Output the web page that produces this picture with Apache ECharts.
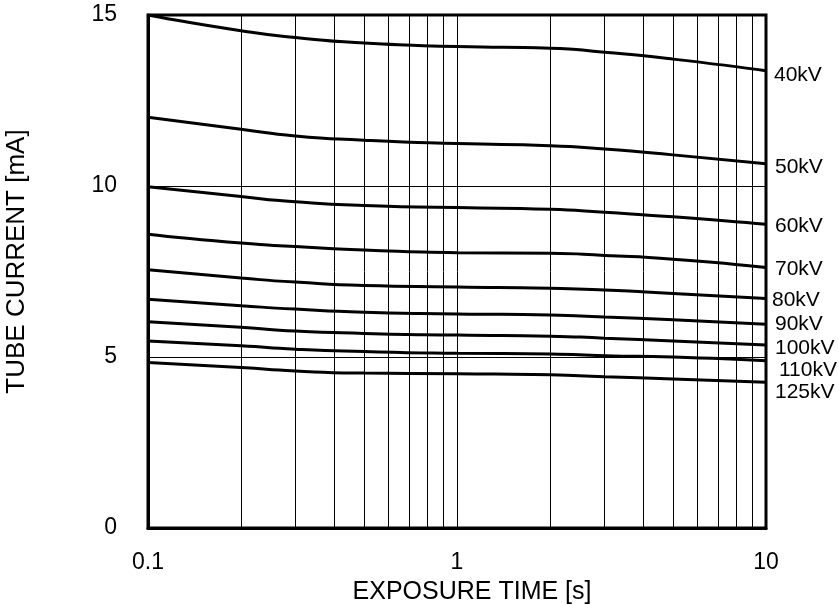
<!DOCTYPE html>
<html>
<head>
<meta charset="utf-8">
<script src="https://cdn.jsdelivr.net/npm/echarts@6/dist/echarts.min.js"></script>
<style>
html,body{margin:0;padding:0;background:#fff;}
#chart{width:839px;height:605px;}
</style>
</head>
<body>
<div id="chart"></div>
<script>
const exposureTimes = [0.1, 0.2, 0.3, 0.5, 1, 2, 3, 5, 10];
const seriesNames = ['40kV','50kV','60kV','70kV','80kV','90kV','100kV','110kV','125kV'];
const current40 = [15.0, 14.54, 14.34, 14.18, 14.08, 14.03, 13.91, 13.71, 13.37];
const current50 = [12.01, 11.66, 11.46, 11.34, 11.24, 11.18, 11.08, 10.91, 10.65];
const current60 = [9.98, 9.69, 9.54, 9.43, 9.37, 9.32, 9.23, 9.10, 8.88];
const current70 = [8.59, 8.33, 8.23, 8.13, 8.05, 8.03, 7.97, 7.86, 7.62];
const current80 = [7.55, 7.31, 7.19, 7.09, 7.05, 7.01, 6.96, 6.86, 6.71];
const current90 = [6.69, 6.50, 6.40, 6.31, 6.26, 6.23, 6.17, 6.09, 5.96];
const current100 = [6.03, 5.87, 5.76, 5.69, 5.64, 5.61, 5.55, 5.47, 5.35];
const current110 = [5.47, 5.33, 5.23, 5.16, 5.11, 5.09, 5.04, 5.00, 4.89];
const current125 = [4.84, 4.69, 4.59, 4.53, 4.51, 4.48, 4.42, 4.36, 4.26];
const minorGridTimes = [0.2,0.3,0.4,0.5,0.6,0.7,0.8,0.9,2,3,4,5,6,7,8,9];
const xTickLabels = [0.1, 1, 10];
const yTicks = [0, 5, 10, 15];

const allCurrents = [current40,current50,current60,current70,current80,current90,current100,current110,current125];
const labelOffsets = [[2,4],[3,3],[3,2],[3,2],[0,2],[3,0],[3,3],[7,9],[3,10]];

const FONT = 'Liberation Sans, Arial, sans-serif';

const series = seriesNames.map((name, i) => {
  const s = {
    name: name,
    type: 'line',
    data: exposureTimes.map((t, j) => [t, allCurrents[i][j]]),
    showSymbol: false,
    symbol: 'none',
    smooth: 0.6,
    lineStyle: {color: '#000', width: 3},
    itemStyle: {color: '#000'},
    z: 5,
    endLabel: {
      show: true,
      formatter: name,
      color: '#000',
      fontFamily: FONT,
      fontSize: 21,
      distance: 6,
      offset: labelOffsets[i]
    }
  };
  if (i === 0) {
    s.markLine = {
      silent: true,
      symbol: ['none','none'],
      label: {show: false},
      lineStyle: {color: '#000', width: 1, type: 'solid'},
      emphasis: {disabled: true},
      z: 1,
      data: minorGridTimes.map(t => ({xAxis: t}))
    };
  }
  return s;
});

const chart = echarts.init(document.getElementById('chart'));
chart.setOption({
  animation: false,
  backgroundColor: '#fff',
  grid: {
    left: 148, right: 73, top: 15, bottom: 77,
    containLabel: false,
    outerBoundsMode: 'none',
    show: true, borderColor: '#000', borderWidth: 3, backgroundColor: 'transparent', z: 10
  },
  xAxis: {
    type: 'log',
    logBase: 10,
    min: xTickLabels[0],
    max: xTickLabels[xTickLabels.length-1],
    name: 'EXPOSURE TIME [s]',
    nameLocation: 'middle',
    nameGap: 52,
    nameTextStyle: {color: '#000', fontFamily: FONT, fontSize: 25, padding: [0,0,0,30]},
    axisLine: {show: true, lineStyle: {color: '#000', width: 3}},
    axisTick: {show: false},
    axisLabel: {color: '#000', fontFamily: FONT, fontSize: 23, margin: 23,
      formatter: v => String(v)},
    splitLine: {show: true, lineStyle: {color: '#000', width: 1}},
    minorTick: {show: false},
    minorSplitLine: {show: false}
  },
  yAxis: {
    type: 'value',
    min: yTicks[0],
    max: yTicks[yTicks.length-1],
    interval: 5,
    name: 'TUBE CURRENT [mA]',
    nameLocation: 'middle',
    nameGap: 118,
    nameTextStyle: {color: '#000', fontFamily: FONT, fontSize: 26, padding: [0,0,0,20]},
    axisLine: {show: true, lineStyle: {color: '#000', width: 3}},
    axisTick: {show: false},
    axisLabel: {color: '#000', fontFamily: FONT, fontSize: 23, margin: 31},
    splitLine: {show: true, lineStyle: {color: '#000', width: 1}}
  },
  series: series
});
</script>
</body>
</html>
